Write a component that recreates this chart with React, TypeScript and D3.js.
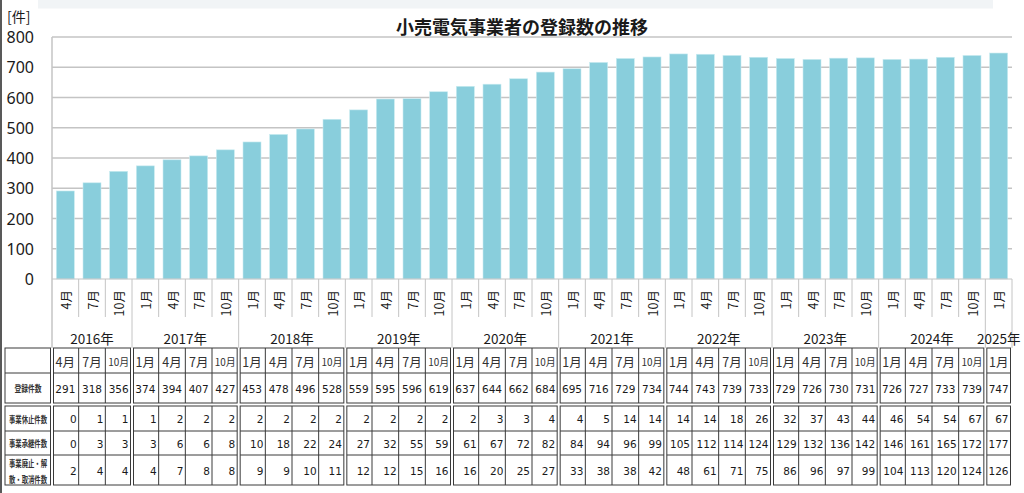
import React from 'react';
import * as d3 from 'd3';

const periodYears = [
  2016, 2016, 2016,
  2017, 2017, 2017, 2017,
  2018, 2018, 2018, 2018,
  2019, 2019, 2019, 2019,
  2020, 2020, 2020, 2020,
  2021, 2021, 2021, 2021,
  2022, 2022, 2022, 2022,
  2023, 2023, 2023, 2023,
  2024, 2024, 2024, 2024,
  2025,
];
const periodMonths = [
  4, 7, 10,
  1, 4, 7, 10,
  1, 4, 7, 10,
  1, 4, 7, 10,
  1, 4, 7, 10,
  1, 4, 7, 10,
  1, 4, 7, 10,
  1, 4, 7, 10,
  1, 4, 7, 10,
  1,
];
const registrations = [
  291, 318, 356,
  374, 394, 407, 427,
  453, 478, 496, 528,
  559, 595, 596, 619,
  637, 644, 662, 684,
  695, 716, 729, 734,
  744, 743, 739, 733,
  729, 726, 730, 731,
  726, 727, 733, 739,
  747,
];
const suspended = [
  0, 1, 1,
  1, 2, 2, 2,
  2, 2, 2, 2,
  2, 2, 2, 2,
  2, 3, 3, 4,
  4, 5, 14, 14,
  14, 14, 18, 26,
  32, 37, 43, 44,
  46, 54, 54, 67,
  67,
];
const succeeded = [
  0, 3, 3,
  3, 6, 6, 8,
  10, 18, 22, 24,
  27, 32, 55, 59,
  61, 67, 72, 82,
  84, 94, 96, 99,
  105, 112, 114, 124,
  129, 132, 136, 142,
  146, 161, 165, 172,
  177,
];
const abolished = [
  2, 4, 4,
  4, 7, 8, 8,
  9, 9, 10, 11,
  12, 12, 15, 16,
  16, 20, 25, 27,
  33, 38, 38, 42,
  48, 61, 71, 75,
  86, 96, 97, 99,
  104, 113, 120, 124,
  126,
];
const yTicks = [0, 100, 200, 300, 400, 500, 600, 700, 800];
const title = '小売電気事業者の登録数の推移';
const unitLabel = '[件]';
const rowLabels = ['登録件数', '事業休止件数', '事業承継件数'];
const lastRowLabel = ['事業廃止・解', '散・取消件数'];

const W = 1024;
const H = 493;
const plotLeft = 52;
const plotRight = 1012;
const plotTop = 37;
const plotBottom = 279;

const JP = '"Noto Sans CJK JP", "Noto Sans", sans-serif';
const NUM = '"DejaVu Sans", Verdana, sans-serif';
const BAR = '#89cedc';
const GRID = '#c4c4c4';
const TXT = '#1a1a1a';
const LINE = '#3a3a3a';

export default function App() {
  const idx = registrations.map((_, i) => i);
  const x = d3
    .scaleBand<number>()
    .domain(idx)
    .range([plotLeft, plotRight])
    .paddingInner(0.325)
    .paddingOuter(0.1625);
  const step = x.step();
  const cellX0 = (i: number) => plotLeft + i * step;
  const y = d3.scaleLinear().domain([0, 800]).range([plotBottom, plotTop]);

  const years = Array.from(new Set(periodYears));
  const groups = years.map((yr) => {
    const first = periodYears.indexOf(yr);
    const last = periodYears.lastIndexOf(yr);
    return { yr, first, last, x0: cellX0(first), x1: cellX0(last + 1) };
  });

  const tTop = 348;
  const hdrBot = 373;
  const regBot = 403;
  const sec2Top = 406;
  const r1Bot = 431;
  const r2Bot = 455;
  const tBot = 485;

  const sectionBox = (x0: number, x1: number, key: string) => [
    <rect key={key + 'a'} x={x0} y={tTop} width={x1 - x0} height={regBot - tTop} fill="none" stroke={LINE} strokeWidth={1} />,
    <rect key={key + 'b'} x={x0} y={sec2Top} width={x1 - x0} height={tBot - sec2Top} fill="none" stroke={LINE} strokeWidth={1} />,
    <line key={key + 'c'} x1={x0} x2={x1} y1={hdrBot} y2={hdrBot} stroke={LINE} strokeWidth={1} />,
    <line key={key + 'd'} x1={x0} x2={x1} y1={r1Bot} y2={r1Bot} stroke={LINE} strokeWidth={1} />,
    <line key={key + 'e'} x1={x0} x2={x1} y1={r2Bot} y2={r2Bot} stroke={LINE} strokeWidth={1} />,
  ];

  const rowsLower = [
    { vals: suspended, cy: 419 },
    { vals: succeeded, cy: 443.5 },
    { vals: abolished, cy: 470.5 },
  ];

  return (
    <svg
      width={W}
      height={H}
      style={{ position: 'absolute', left: 0, top: 0, display: 'block', background: '#fff' }}
    >
      <rect x={0} y={0} width={W} height={H} fill="#fff" />
      <rect x={38} y={0} width={955} height={8.5} fill="#f1f4f6" />
      <line x1={1} x2={1} y1={0} y2={H} stroke="#222" strokeWidth={1.5} />

      <text x={522} y={26} textAnchor="middle" dominantBaseline="central" fontFamily={JP} fontWeight={700} fontSize={18} fill={TXT}>
        {title}
      </text>
      <text x={7} y={16} dominantBaseline="central" fontFamily={JP} fontSize={14} fill={TXT}>
        {unitLabel}
      </text>

      {yTicks.map((t) => (
        <g key={t}>
          {t > 0 && (
            <line x1={plotLeft} x2={plotRight} y1={y(t)} y2={y(t)} stroke={GRID} strokeWidth={1.5} />
          )}
          <text x={34} y={y(t)} textAnchor="end" dominantBaseline="central" fontFamily='"Noto Sans", sans-serif' fontSize={16} fill={TXT}>
            {t}
          </text>
        </g>
      ))}

      {registrations.map((v, i) => (
        <rect key={i} x={x(i)} y={y(v)} width={x.bandwidth()} height={y(0) - y(v)} fill={BAR} stroke="#c9ebf1" strokeWidth={0.6} />
      ))}

      <line x1={plotLeft} x2={plotLeft} y1={plotTop} y2={tTop} stroke={GRID} strokeWidth={1.5} />
      <line x1={plotLeft} x2={plotRight} y1={plotBottom} y2={plotBottom} stroke={GRID} strokeWidth={1} />
      {idx.map((i) => {
        const bx = cellX0(i + 1);
        const isYearEdge = i === idx.length - 1 || periodYears[i + 1] !== periodYears[i];
        return (
          <line key={'t' + i} x1={bx} x2={bx} y1={plotBottom} y2={isYearEdge ? tTop : 317} stroke={GRID} strokeWidth={1} />
        );
      })}

      {idx.map((i) => {
        const cx = x(i)! + x.bandwidth() / 2;
        return (
          <text
            key={'m' + i}
            transform={`translate(${cx},290) rotate(-90)`}
            textAnchor="end"
            dominantBaseline="central"
            fontFamily={JP}
            fontSize={12.5}
            fill={TXT}
          >
            {periodMonths[i] + '月'}
          </text>
        );
      })}

      {groups.map((g) => (
        <text key={'y' + g.yr} x={(g.x0 + g.x1) / 2} y={338} textAnchor="middle" dominantBaseline="central" fontFamily={JP} fontSize={13.5} fill={TXT}>
          {g.yr + '年'}
        </text>
      ))}

      {sectionBox(5, 50.5, 'lab')}
      <text x={28} y={388} textAnchor="middle" dominantBaseline="central" fontFamily={JP} fontWeight={700} fontSize={9} fill="#333" textLength={27} lengthAdjust="spacingAndGlyphs">
        {rowLabels[0]}
      </text>
      <text x={28} y={419} textAnchor="middle" dominantBaseline="central" fontFamily={JP} fontWeight={700} fontSize={9} fill="#333" textLength={38} lengthAdjust="spacingAndGlyphs">
        {rowLabels[1]}
      </text>
      <text x={28} y={443.5} textAnchor="middle" dominantBaseline="central" fontFamily={JP} fontWeight={700} fontSize={9} fill="#333" textLength={38} lengthAdjust="spacingAndGlyphs">
        {rowLabels[2]}
      </text>
      {lastRowLabel.map((s, k) => (
        <text key={'ll' + k} x={28} y={463 + k * 16} textAnchor="middle" dominantBaseline="central" fontFamily={JP} fontWeight={700} fontSize={9} fill="#333" textLength={38} lengthAdjust="spacingAndGlyphs">
          {s}
        </text>
      ))}

      {groups.map((g) => (
        <g key={'g' + g.yr}>
          {sectionBox(g.x0 + 1.5, g.x1 - 1.5, 'box' + g.yr)}
          {d3.range(g.first + 1, g.last + 1).map((i) => (
            <g key={'v' + i}>
              <line x1={cellX0(i)} x2={cellX0(i)} y1={tTop} y2={regBot} stroke={LINE} strokeWidth={1} />
              <line x1={cellX0(i)} x2={cellX0(i)} y1={sec2Top} y2={tBot} stroke={LINE} strokeWidth={1} />
            </g>
          ))}
        </g>
      ))}

      {idx.map((i) => {
        const c0 = cellX0(i);
        const cx = c0 + step / 2;
        const c1 = cellX0(i + 1);
        const lastInGroup = i === idx.length - 1 || periodYears[i + 1] !== periodYears[i];
        const rx = c1 - (lastInGroup ? 3.5 : 2);
        const wide = periodMonths[i] >= 10;
        return (
          <g key={'c' + i}>
            <text
              x={cx}
              y={361}
              textAnchor="middle"
              dominantBaseline="central"
              fontFamily={JP}
              fontSize={wide ? 10 : 12.5}
              fill="#333"
              {...(wide ? { textLength: 21, lengthAdjust: 'spacingAndGlyphs' } : {})}
            >
              {periodMonths[i] + '月'}
            </text>
            <text x={cx} y={388.5} textAnchor="middle" dominantBaseline="central" fontFamily={NUM} fontSize={10.5} fill={TXT}>
              {registrations[i]}
            </text>
            {rowsLower.map((r, k) => (
              <text key={k} x={rx} y={r.cy} textAnchor="end" dominantBaseline="central" fontFamily={NUM} fontSize={10.5} fill={TXT}>
                {r.vals[i]}
              </text>
            ))}
          </g>
        );
      })}
    </svg>
  );
}
